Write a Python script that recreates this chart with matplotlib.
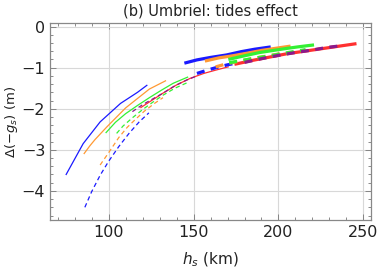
import matplotlib
matplotlib.use("Agg")
import matplotlib.pyplot as plt
from matplotlib.ticker import MultipleLocator

# thin curves (h_s in km, delta in m)
blue_thin_h = [75, 85, 95, 107, 117, 122.5]
blue_thin_y = [-3.6, -2.85, -2.32, -1.87, -1.6, -1.43]
orange_thin_h = [85.6, 89, 92, 99, 110, 117, 124, 133.5]
orange_thin_y = [-3.09, -2.9, -2.75, -2.44, -1.98, -1.75, -1.52, -1.32]
green_thin_h = [98.5, 104, 110, 117, 124, 131, 138, 146.5]
green_thin_y = [-2.58, -2.33, -2.12, -1.92, -1.73, -1.55, -1.38, -1.23]
red_thin_h = [119, 126, 132, 140, 148, 156, 163, 170.4]
red_thin_y = [-1.97, -1.78, -1.62, -1.42, -1.26, -1.14, -1.06, -0.98]

# thin dashed curves
blue_dash_h = [86, 90, 95, 100, 106, 112, 118, 123.7]
blue_dash_y = [-4.4, -4.02, -3.62, -3.28, -2.92, -2.6, -2.32, -2.1]
orange_dash_h = [95, 100, 106, 111, 116, 121, 127, 132]
orange_dash_y = [-3.37, -3.07, -2.7, -2.45, -2.25, -2.06, -1.87, -1.73]
green_dash_h = [104.7, 108.5, 114, 120, 126, 132, 139, 146]
green_dash_y = [-2.6, -2.42, -2.22, -2.02, -1.84, -1.67, -1.5, -1.37]
purple_dash_h = [114, 120, 126, 132, 139, 146, 152]
purple_dash_y = [-2.07, -1.9, -1.76, -1.62, -1.44, -1.3, -1.2]

# thick curves
blue_thick_h = [145.5, 152, 160, 169.4, 178, 186, 194.5]
blue_thick_y = [-0.88, -0.81, -0.75, -0.69, -0.61, -0.55, -0.5]
orange_thick_h = [157.6, 165, 173, 181.2, 190, 198, 206.2]
orange_thick_y = [-0.83, -0.76, -0.71, -0.65, -0.58, -0.53, -0.48]
green_thick_h = [171.4, 180, 189, 197, 205, 212, 220]
green_thick_y = [-0.79, -0.71, -0.63, -0.58, -0.53, -0.49, -0.45]
red_thick_h = [175, 185, 195, 205, 215, 225, 235, 245]
red_thick_y = [-0.91, -0.82, -0.74, -0.66, -0.6, -0.54, -0.48, -0.42]

# thick dashed curves
blue_tdash_h = [152, 158, 164, 170, 176]
blue_tdash_y = [-1.14, -1.06, -0.99, -0.93, -0.88]
orange_tdash_h = [163, 170, 178, 186, 194, 201]
orange_tdash_y = [-0.98, -0.9, -0.83, -0.77, -0.71, -0.66]
green_tdash_h = [171, 179, 187, 195, 203, 210, 216]
green_tdash_y = [-0.88, -0.82, -0.76, -0.71, -0.65, -0.6, -0.56]
purple_tdash_h = [180, 190, 200, 210, 220, 228, 236]
purple_tdash_y = [-0.87, -0.78, -0.7, -0.63, -0.57, -0.51, -0.47]

BLUE = "#1a1aff"
ORANGE = "#ff9933"
GREEN = "#33f033"
PURPLE = "#8b1a8b"
RED = "#ff3030"

fig = plt.figure(figsize=(3.79, 2.73), dpi=100)
ax = fig.add_axes([0.132, 0.194, 0.847, 0.722])

thin = 0.9
thick = 2.3

ax.plot(red_thick_h, red_thick_y, color=RED, lw=thick)
ax.plot(red_thin_h, red_thin_y, color=RED, lw=thin)
ax.plot(blue_thin_h, blue_thin_y, color=BLUE, lw=thin)
ax.plot(orange_thin_h, orange_thin_y, color=ORANGE, lw=thin)
ax.plot(green_thin_h, green_thin_y, color=GREEN, lw=thin)

ax.plot(blue_dash_h, blue_dash_y, color=BLUE, lw=thin, dashes=(3.5, 2.5))
ax.plot(orange_dash_h, orange_dash_y, color=ORANGE, lw=thin, dashes=(3.5, 2.5))
ax.plot(green_dash_h, green_dash_y, color=GREEN, lw=thin, dashes=(3.5, 2.5))
ax.plot(purple_dash_h, purple_dash_y, color=PURPLE, lw=thin, dashes=(3.5, 2.5))

ax.plot(blue_thick_h, blue_thick_y, color=BLUE, lw=thick)
ax.plot(orange_thick_h, orange_thick_y, color=ORANGE, lw=thick)
ax.plot(green_thick_h, green_thick_y, color=GREEN, lw=thick)

ax.plot(blue_tdash_h, blue_tdash_y, color=BLUE, lw=thick, dashes=(2.5, 2))
ax.plot(orange_tdash_h, orange_tdash_y, color=ORANGE, lw=thick, dashes=(2.5, 2))
ax.plot(green_tdash_h, green_tdash_y, color=GREEN, lw=thick, dashes=(2.5, 2))
ax.plot(purple_tdash_h, purple_tdash_y, color=PURPLE, lw=thick, dashes=(2.5, 2))

ax.set_xlim(65.5, 254.5)
ax.set_ylim(-4.71, 0.09)
ax.xaxis.set_major_locator(MultipleLocator(50))
ax.xaxis.set_minor_locator(MultipleLocator(10))
ax.yaxis.set_major_locator(MultipleLocator(1))
ax.yaxis.set_minor_locator(MultipleLocator(0.2))
ax.grid(True, which="major", color="#d8d8d8", lw=0.8)
ax.set_axisbelow(True)

for s in ax.spines.values():
    s.set_color("#888888")
    s.set_linewidth(0.9)
ax.tick_params(which="both", direction="in", top=True, right=True, color="#777777",
               labelsize=11.5, labelcolor="#222222", width=0.6)
ax.tick_params(which="major", length=4)
ax.tick_params(which="minor", length=2.3)
ax.set_yticks([0, -1, -2, -3, -4])
ax.set_yticklabels(["0", "\u22121", "\u22122", "\u22123", "\u22124"])

ax.set_title("(b) Umbriel: tides effect", fontsize=10.5, color="#222222", pad=5)
ax.set_xlabel(r"$h_s$ (km)", fontsize=11, color="#222222", labelpad=8)
ax.set_ylabel(r"$\Delta(-g_s)$ (m)", fontsize=9.5, color="#222222")
ax.yaxis.set_label_coords(-0.092, 0.5)

fig.savefig("out.png", dpi=100)
